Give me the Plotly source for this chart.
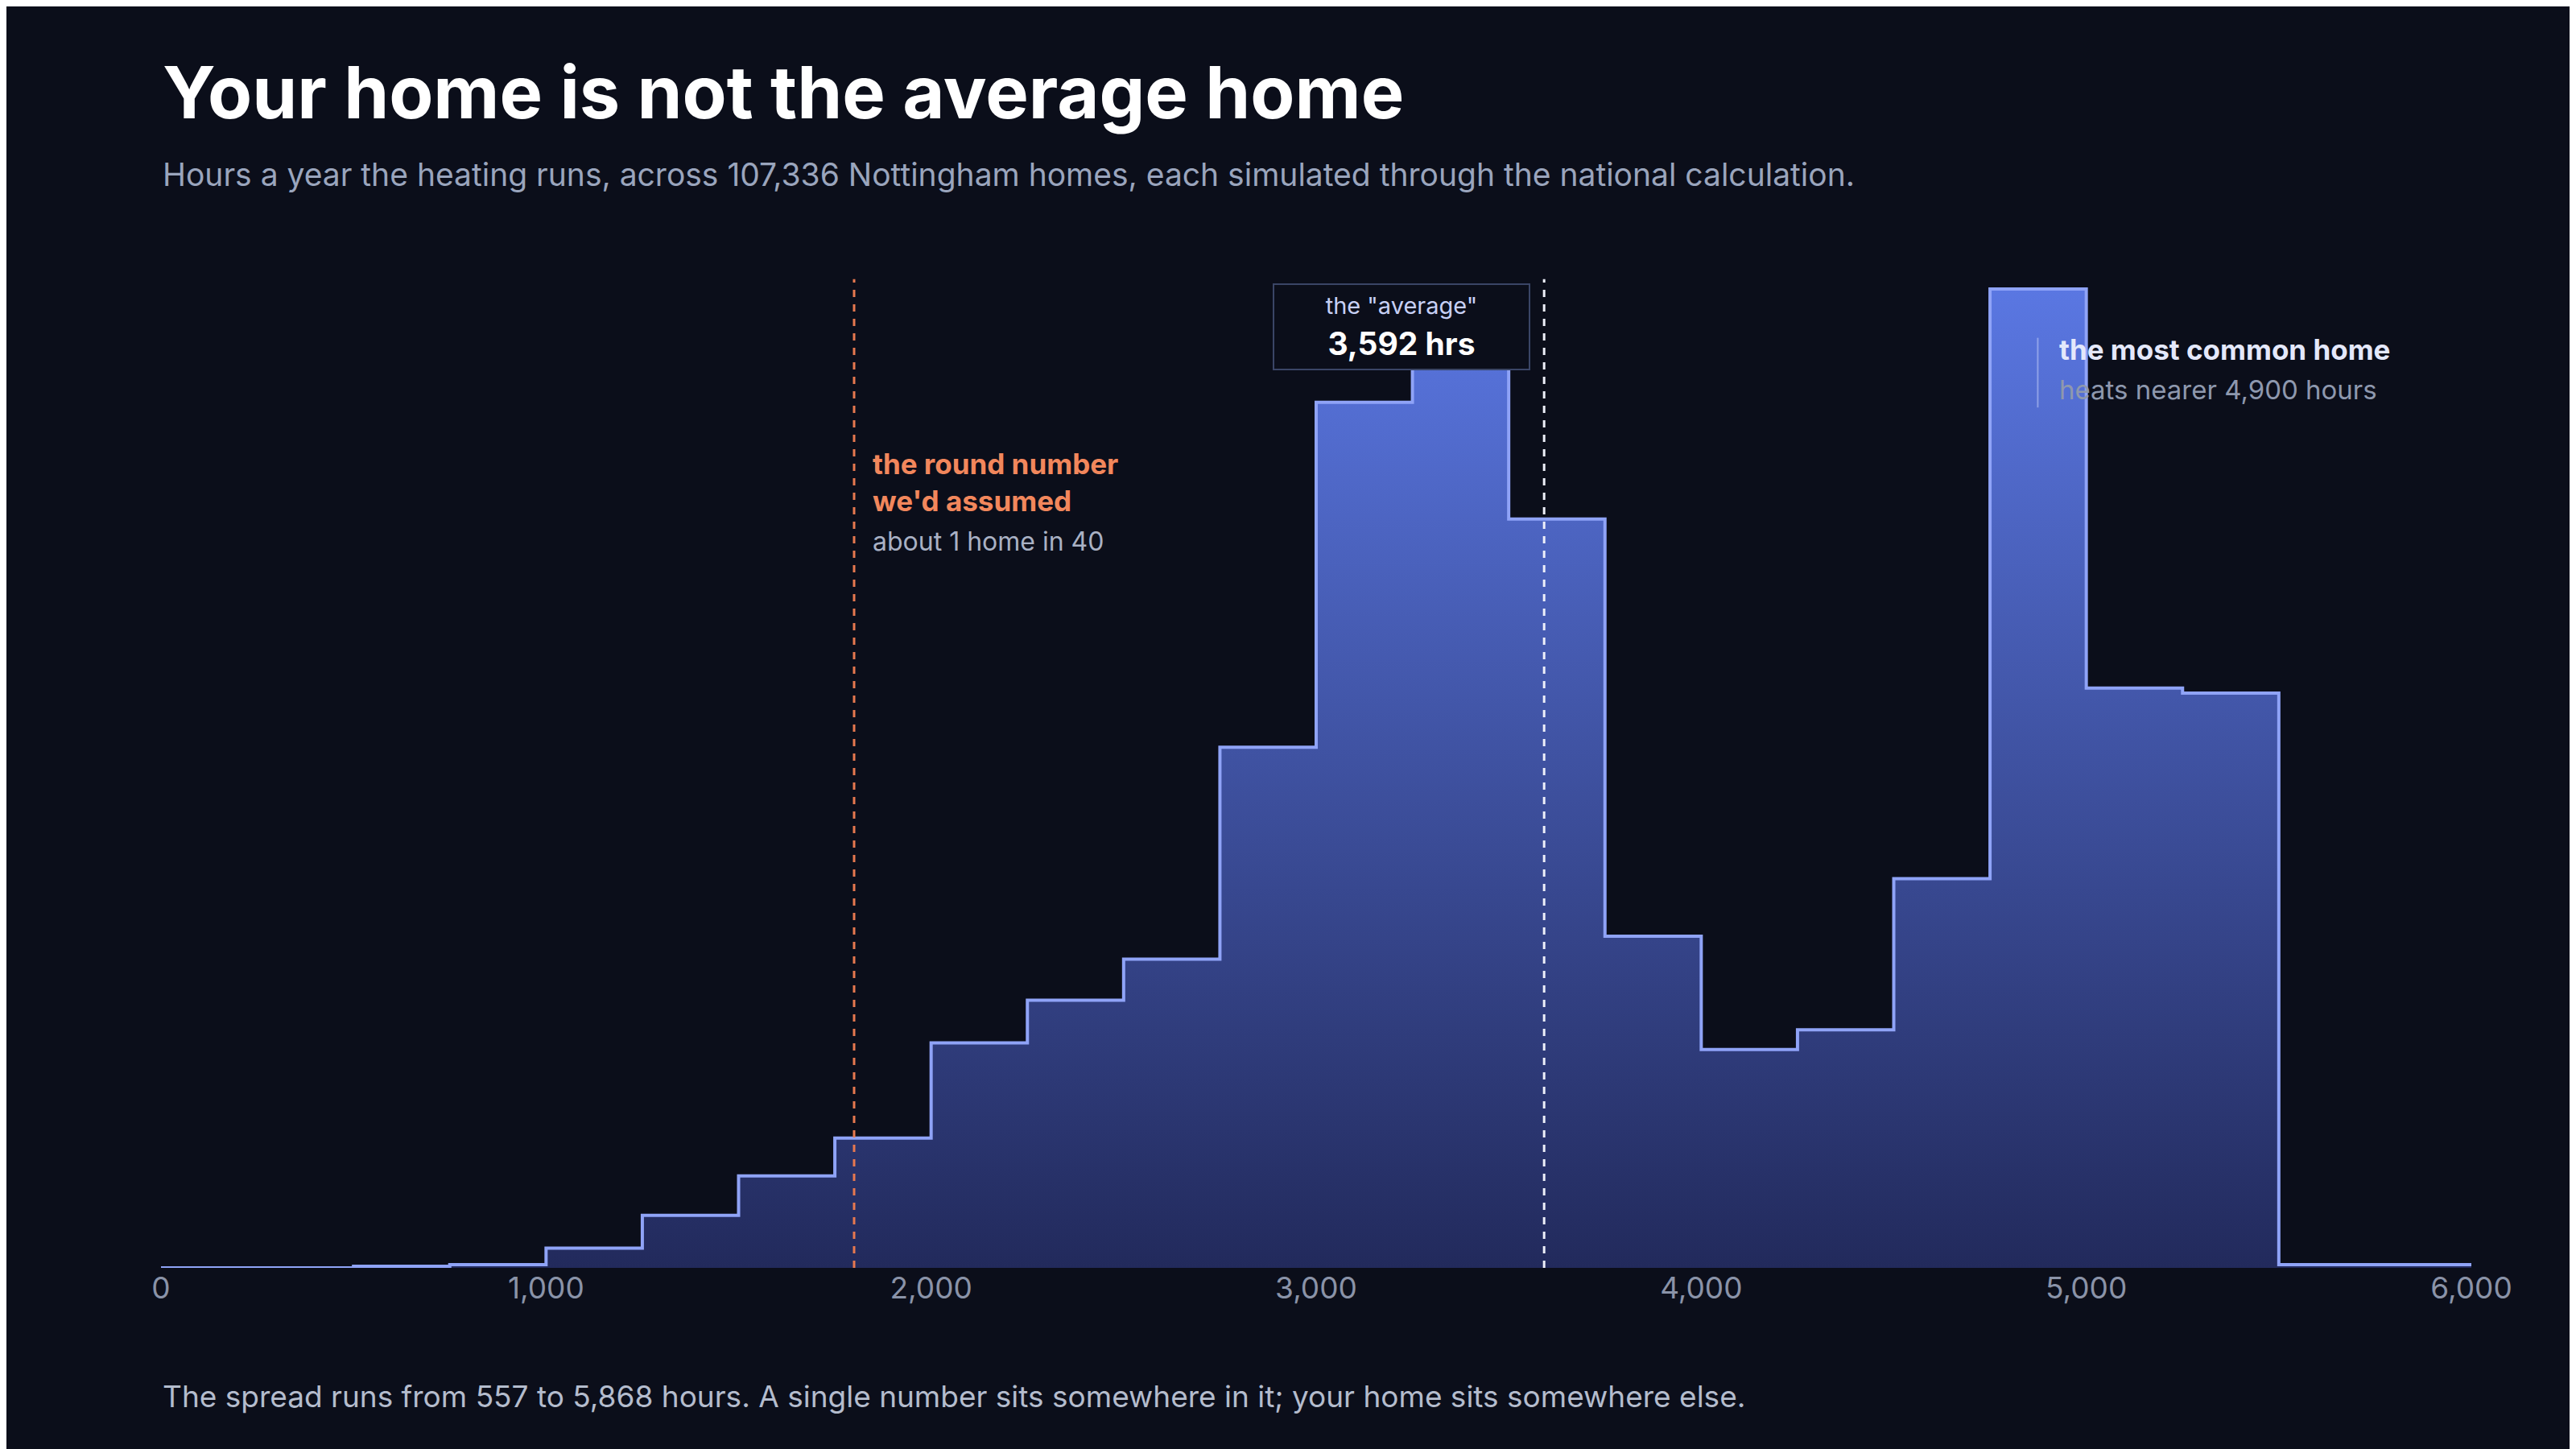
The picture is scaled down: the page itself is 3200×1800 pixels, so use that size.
import plotly.graph_objects as go

# histogram of annual heating hours, 250-hour bins
bin_edges = list(range(0, 6001, 250))
home_counts = [0, 0, 24, 47, 283, 755, 1322, 1864, 3233, 3847, 4437, 7481,
               12437, 13216, 10762, 4767, 3139, 3422, 5593, 14066, 8331, 8260, 47, 47]
tick_vals = [0, 1000, 2000, 3000, 4000, 5000, 6000]
tick_text = ["0", "1,000", "2,000", "3,000", "4,000", "5,000", "6,000"]
assumed_hours = 1800
mean_hours = 3592

BG = "#0b0e1a"
FONT = "Inter"

fig = go.Figure()
fig.add_trace(go.Scatter(
    x=bin_edges,
    y=home_counts + [home_counts[-1]],
    mode="lines",
    line=dict(shape="hv", color="#8fa3f7", width=4),
    fill="tozeroy",
    fillgradient=dict(type="vertical",
                      colorscale=[[0, "#222a5c"], [1, "#5a77e2"]]),
    hoverinfo="skip",
))

ymax = max(home_counts) * 1237 / 1216

# reference lines
fig.add_shape(type="line", x0=assumed_hours, x1=assumed_hours, xref="x",
              y0=0, y1=0.993, yref="paper",
              line=dict(color="#e8794f", width=3, dash="dash"))
fig.add_shape(type="line", x0=mean_hours, x1=mean_hours, xref="x",
              y0=0, y1=0.993, yref="paper",
              line=dict(color="#eef0fa", width=3, dash="dash"))
fig.add_shape(type="line", x0=4874, x1=4874, xref="x",
              y0=0.864, y1=0.934, yref="paper",
              line=dict(color="rgba(200,210,250,0.5)", width=2))

ann = []
# title / subtitle / footer
ann.append(dict(x=0, y=1.181, xref="paper", yref="paper", xanchor="left", yanchor="middle",
                text="<b>Your home is not the average home</b>", showarrow=False,
                font=dict(family=FONT, size=90, color="#ffffff")))
ann.append(dict(x=0, y=1.098, xref="paper", yref="paper", xanchor="left", yanchor="middle",
                text="Hours a year the heating runs, across 107,336 Nottingham homes, "
                     "each simulated through the national calculation.",
                showarrow=False, font=dict(family=FONT, size=39, color="#9aa5bd")))
ann.append(dict(x=0, y=-0.129, xref="paper", yref="paper", xanchor="left", yanchor="middle",
                text="The spread runs from 557 to 5,868 hours. A single number sits somewhere in it; "
                     "your home sits somewhere else.",
                showarrow=False, font=dict(family=FONT, size=37, color="#b4bccd")))
# assumed label
ann.append(dict(x=1844, y=(1567 - 591) / 1237, xref="x", yref="paper", xanchor="left",
                yanchor="middle", align="left",
                text="<b>the round number<br>we'd assumed</b>", showarrow=False,
                font=dict(family=FONT, size=35, color="#f2875c")))
ann.append(dict(x=1844, y=(1567 - 664) / 1237, xref="x", yref="paper", xanchor="left",
                yanchor="middle", text="about 1 home in 40", showarrow=False,
                font=dict(family=FONT, size=32, color="#a9b1c4")))
# average box
ann.append(dict(x=3222, y=0.945, xref="x", yref="paper", xanchor="center", yanchor="middle",
                text="<span style='font-size:29px;color:#c7d0f5'>the \"average\"</span><br>"
                     "<b>3,592 hrs</b>",
                showarrow=False, bgcolor=BG, bordercolor="#3a4566", borderwidth=2,
                borderpad=8, width=300,
                font=dict(family=FONT, size=39, color="#ffffff")))
# mode label
ann.append(dict(x=4925, y=0.922, xref="x", yref="paper", xanchor="left", yanchor="middle",
                text="<b>the most common home</b>", showarrow=False,
                font=dict(family=FONT, size=35, color="#e4e8fb")))
ann.append(dict(x=4925, y=0.882, xref="x", yref="paper", xanchor="left", yanchor="middle",
                text="heats nearer 4,900 hours", showarrow=False,
                font=dict(family=FONT, size=33, color="#8e98ae")))

fig.update_layout(
    width=3200, height=1800,
    paper_bgcolor=BG, plot_bgcolor=BG,
    margin=dict(l=192, r=138, t=330, b=233),
    showlegend=False,
    annotations=ann,
    xaxis=dict(range=[0, 6000], tickvals=tick_vals, ticktext=tick_text,
               showgrid=False, zeroline=False, showline=False, ticks="",
               tickfont=dict(family=FONT, size=37, color="#8a93a8")),
    yaxis=dict(range=[0, ymax], visible=False, showgrid=False),
)

fig.write_html("out.html")
